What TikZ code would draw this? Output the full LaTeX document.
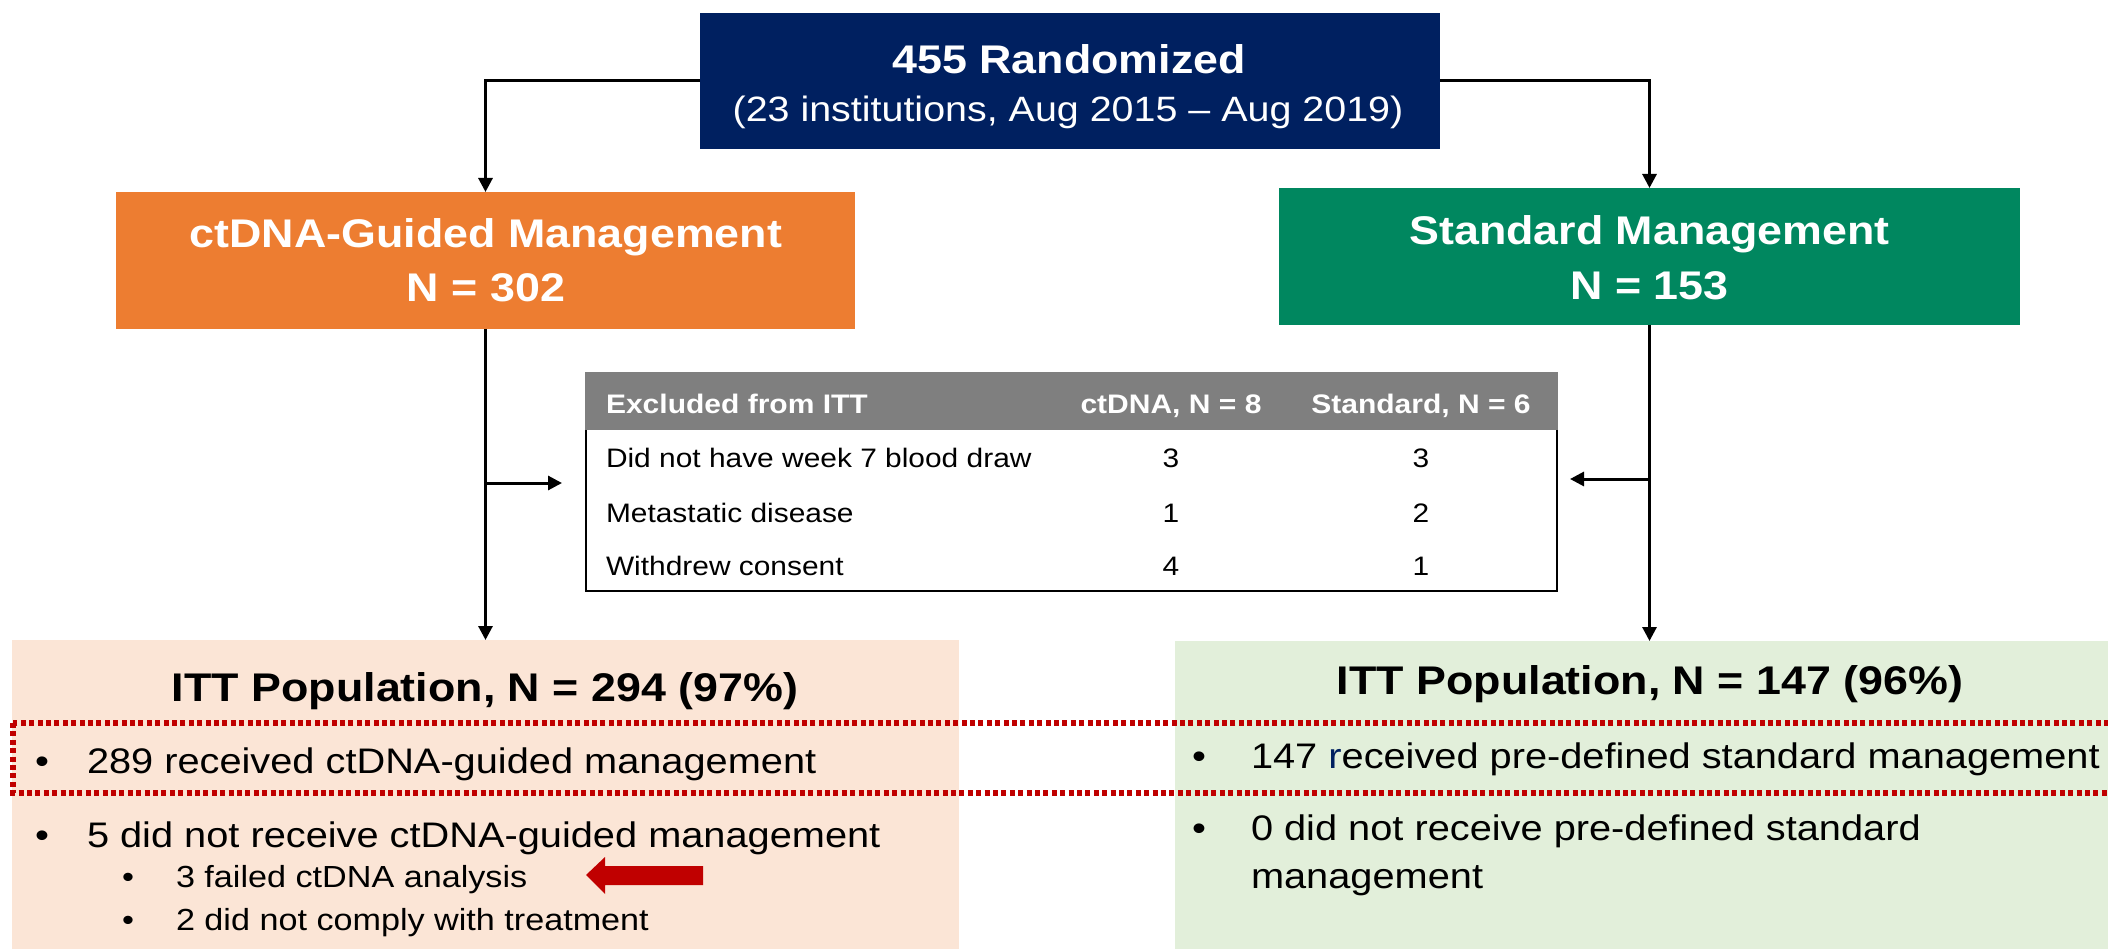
\documentclass[tikz,border=0pt]{standalone}
\usepackage{fontspec}
\setmainfont{Liberation Sans}[FakeStretch=1.12]
\usetikzlibrary{arrows.meta}
\definecolor{navy}{HTML}{002060}
\definecolor{orng}{HTML}{ED7D31}
\definecolor{grn}{HTML}{00875F}
\definecolor{peach}{HTML}{FBE5D6}
\definecolor{lgreen}{HTML}{E2EFDA}
\definecolor{hdrgray}{HTML}{7F7F7F}
\definecolor{dred}{HTML}{C00000}
\begin{document}
\begin{tikzpicture}[x=1pt,y=-1pt,
  box/.style={rectangle,inner sep=0pt,outer sep=0pt,draw=none},
  arr/.style={line width=3pt,draw=black,-{Triangle[length=14pt,width=14pt]}},
  txt/.style={inner sep=0pt,outer sep=0pt,anchor=base},
  txtw/.style={inner sep=0pt,outer sep=0pt,anchor=base west},
  ftitle/.style={font=\fontsize{40}{48}\selectfont\bfseries},
  fsub/.style={font=\fontsize{35.2}{42}\selectfont},
  fbody/.style={font=\fontsize{35.5}{42}\selectfont},
  fsmall/.style={font=\fontsize{30.5}{36}\selectfont},
  ftbl/.style={font=\fontsize{26.7}{32}\selectfont},
  ftblh/.style={font=\fontsize{26.8}{32}\selectfont\bfseries},
  dotline/.style={draw=dred,line width=5.5pt,dash pattern=on 5pt off 3.4pt}
]
\useasboundingbox (0,0) rectangle (2108,949);
\fill[white] (0,0) rectangle (2108,949);

% top box
\node[box,fill=navy,minimum width=740pt,minimum height=136pt] (rand) at (1070,81) {};
\node[txt,ftitle,text=white] (randA) at (1069,74) {455 Randomized};
\node[txt,fsub,text=white] (randB) at (1068,122) {(23 institutions, Aug 2015 – Aug 2019)};

% arm boxes
\node[box,fill=orng,minimum width=739pt,minimum height=137pt] (ctdna) at (485.5,260.5) {};
\node[txt,ftitle,text=white] (ctdnaA) at (486,248) {ctDNA-Guided Management};
\node[txt,ftitle,text=white] (ctdnaB) at (486,302) {N = 302};

\node[box,fill=grn,minimum width=741pt,minimum height=137pt] (std) at (1649.5,256.5) {};
\node[txt,ftitle,text=white] (stdA) at (1649.5,245) {Standard Management};
\node[txt,ftitle,text=white] (stdB) at (1649.5,300) {N = 153};

% ITT boxes
\node[box,fill=peach,minimum width=947pt,minimum height=309pt] (ittL) at (485.5,794.5) {};
\node[box,fill=lgreen,minimum width=933pt,minimum height=308pt] (ittR) at (1641.5,795) {};

% dotted highlight
\draw[dotline] (13,723) rectangle (2125,793);

% ITT texts
\node[txt,ftitle] (ittLT) at (485,701) {ITT Population, N = 294 (97\%)};
\node[txt,ftitle] (ittRT) at (1650,694) {ITT Population, N = 147 (96\%)};

\node[txt,fbody] (bL1) at (42,773) {•};
\node[txtw,fbody] (tL1) at (87,773) {289 received ctDNA-guided management};
\node[txt,fbody] (bL2) at (42,847) {•};
\node[txtw,fbody] (tL2) at (87,847) {5 did not receive ctDNA-guided management};
\node[txt,fsmall] (bL3) at (128,887) {•};
\node[txtw,fsmall] (tL3) at (176,887) {3 failed ctDNA analysis};
\node[txt,fsmall] (bL4) at (128,930) {•};
\node[txtw,fsmall] (tL4) at (176,930) {2 did not comply with treatment};

\node[txt,fbody] (bR1) at (1199,768) {•};
\node[txtw,fbody] (tR1) at (1251,768) {147 {\color{navy}r}eceived pre-defined standard management};
\node[txt,fbody] (bR2) at (1199,840) {•};
\node[txtw,fbody] (tR2) at (1251,840) {0 did not receive pre-defined standard};
\node[txtw,fbody] (tR3) at (1251,888) {management};

% red arrow
\fill[dred] (586,875) -- (605,857) -- (605,866) -- (703,866) -- (703,885) -- (605,885) -- (605,894) -- cycle;

% table
\node[box,draw=black,line width=2.5pt,fill=white,minimum width=971pt,minimum height=218pt] (tbl) at (1071.5,482) {};
\fill[hdrgray] (584.75,371.75) rectangle (1558.25,430);
\node[txtw,ftblh,text=white] (h1) at (606,413) {Excluded from ITT};
\node[txt,ftblh,text=white] (h2) at (1171,413) {ctDNA, N = 8};
\node[txt,ftblh,text=white] (h3) at (1421,413) {Standard, N = 6};
\node[txtw,ftbl] (r1a) at (606,467) {Did not have week 7 blood draw};
\node[txt,ftbl] (r1b) at (1171,467) {3};
\node[txt,ftbl] (r1c) at (1421,467) {3};
\node[txtw,ftbl] (r2a) at (606,522) {Metastatic disease};
\node[txt,ftbl] (r2b) at (1171,522) {1};
\node[txt,ftbl] (r2c) at (1421,522) {2};
\node[txtw,ftbl] (r3a) at (606,575) {Withdrew consent};
\node[txt,ftbl] (r3b) at (1171,575) {4};
\node[txt,ftbl] (r3c) at (1421,575) {1};

% connectors
\coordinate (jL) at (485.5,483);
\coordinate (tL) at (562,483);
\coordinate (jR) at (1649.5,479);
\coordinate (tR) at (1570,479);
\draw[arr] (rand.west) -| (ctdna.north);
\draw[arr] (rand.east) -| (std.north);
\draw[arr] (ctdna.south) -- (ittL.north);
\draw[arr] (std.south) -- (std.south |- ittR.north);
\draw[arr] (jL) -- (tL);
\draw[arr] (jR) -- (tR);
\end{tikzpicture}
\end{document}
